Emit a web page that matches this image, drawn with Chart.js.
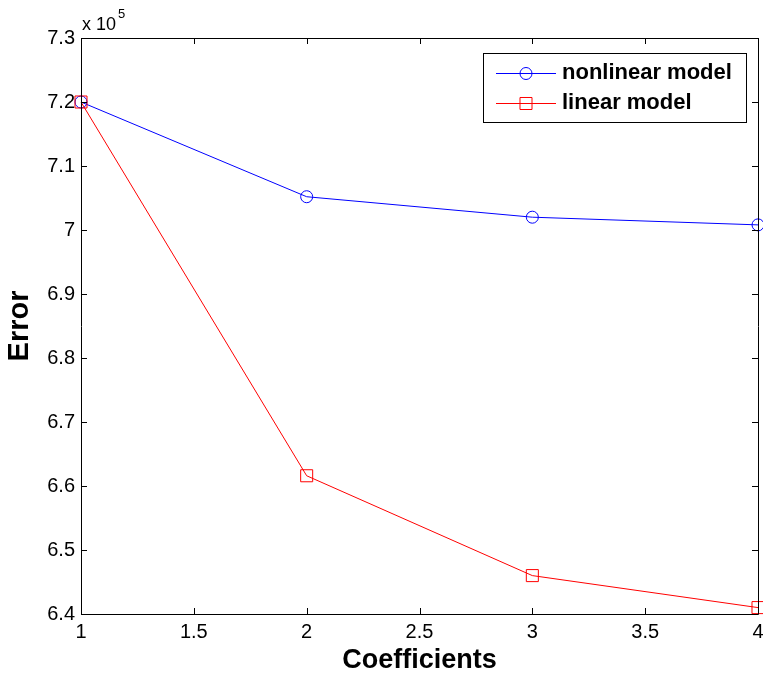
<!DOCTYPE html>
<html>
<head>
<meta charset="utf-8">
<script src="https://cdn.jsdelivr.net/npm/chart.js@4/dist/chart.umd.min.js"></script>
<style>
    html, body { margin: 0; padding: 0; background: #fff; }
    canvas { display: block; }
</style>
</head>
<body>
<canvas id="errChart" width="763" height="678"></canvas>
<script>
// Chart data
const coefficients = [1, 2, 3, 4];
const nonlinearError = [7.200, 7.052, 7.020, 7.008];
const linearError = [7.200, 6.616, 6.460, 6.410];
const xTicks = [1, 1.5, 2, 2.5, 3, 3.5, 4];
const yTicks = [6.4, 6.5, 6.6, 6.7, 6.8, 6.9, 7.0, 7.1, 7.2, 7.3];

const FONT = 'Arial, "Liberation Sans", Helvetica, sans-serif';

function toPoints(values) {
    return coefficients.map((c, i) => ({ x: c, y: values[i] }));
}

// Box, inside ticks, exponent label and legend (MATLAB look)
const matlabFrame = {
    id: 'matlabFrame',
    afterDraw(chart) {
        const ctx = chart.ctx;
        const a = chart.chartArea;
        const xs = chart.scales.x;
        const ys = chart.scales.y;
        const tl = 6;

        ctx.save();
        ctx.strokeStyle = '#000';
        ctx.lineWidth = 1;
        ctx.beginPath();
        ctx.rect(Math.round(a.left) + 0.5, Math.round(a.top) + 0.5,
                 Math.round(a.right - a.left), Math.round(a.bottom - a.top));
        ctx.stroke();

        ctx.beginPath();
        xs.ticks.forEach(t => {
            const px = Math.round(xs.getPixelForValue(t.value)) + 0.5;
            ctx.moveTo(px, a.bottom); ctx.lineTo(px, a.bottom - tl);
            ctx.moveTo(px, a.top); ctx.lineTo(px, a.top + tl);
        });
        ys.ticks.forEach(t => {
            const py = Math.round(ys.getPixelForValue(t.value)) + 0.5;
            ctx.moveTo(a.left, py); ctx.lineTo(a.left + tl, py);
            ctx.moveTo(a.right, py); ctx.lineTo(a.right - tl, py);
        });
        ctx.stroke();

        // exponent label
        ctx.fillStyle = '#000';
        ctx.textBaseline = 'alphabetic';
        ctx.textAlign = 'left';
        ctx.font = '18px ' + FONT;
        ctx.fillText('x 10', a.left + 1, a.top - 8);
        const w = ctx.measureText('x 10').width;
        ctx.font = '13px ' + FONT;
        ctx.fillText('5', a.left + 3 + w, a.top - 20);

        // legend
        const box = { x: 483, y: 53, w: 263, h: 69 };
        ctx.fillStyle = '#fff';
        ctx.fillRect(box.x, box.y, box.w, box.h);
        ctx.strokeStyle = '#000';
        ctx.strokeRect(box.x + 0.5, box.y + 0.5, box.w, box.h);

        const rows = [73, 103];
        chart.data.datasets.forEach((ds, i) => {
            const y = rows[i] + 0.5;
            ctx.strokeStyle = ds.borderColor;
            ctx.fillStyle = 'rgba(0,0,0,0)';
            ctx.lineWidth = 1;
            ctx.beginPath();
            ctx.moveTo(496, y); ctx.lineTo(556, y);
            ctx.stroke();
            Chart.helpers.drawPoint(ctx, {
                pointStyle: ds.pointStyle,
                radius: ds.pointRadius,
                borderWidth: 1
            }, 526, y);
            ctx.fillStyle = '#000';
            ctx.font = 'bold 22px ' + FONT;
            ctx.textBaseline = 'middle';
            ctx.fillText(ds.label, 562, rows[i]);
        });
        ctx.restore();
    }
};

new Chart(document.getElementById('errChart'), {
    type: 'line',
    data: {
        datasets: [
            {
                label: 'nonlinear model',
                data: toPoints(nonlinearError),
                borderColor: '#0000ff',
                backgroundColor: 'rgba(0,0,0,0)',
                borderWidth: 1,
                pointStyle: 'circle',
                pointRadius: 6,
                pointBorderWidth: 1,
                tension: 0,
                clip: false,
                order: 1
            },
            {
                label: 'linear model',
                data: toPoints(linearError),
                borderColor: '#ff0000',
                backgroundColor: 'rgba(0,0,0,0)',
                borderWidth: 1,
                pointStyle: 'rect',
                pointRadius: 8.5,
                pointBorderWidth: 1,
                tension: 0,
                clip: false,
                order: 0
            }
        ]
    },
    options: {
        responsive: false,
        animation: false,
        layout: { autoPadding: false, padding: { top: 38, right: 5, left: 0, bottom: 0 } },
        plugins: {
            legend: { display: false },
            tooltip: { enabled: false }
        },
        scales: {
            x: {
                type: 'linear',
                min: 1,
                max: 4,
                afterBuildTicks: s => { s.ticks = xTicks.map(v => ({ value: v })); },
                afterFit: s => { s.height = 64; s.paddingLeft = 0; s.paddingRight = 0; },
                grid: { display: false, drawTicks: false },
                border: { display: false },
                ticks: {
                    padding: 6,
                    color: '#000',
                    font: { family: FONT, size: 20 },
                    callback: v => String(v),
                    maxRotation: 0
                },
                title: {
                    display: true,
                    text: 'Coefficients',
                    color: '#000',
                    font: { family: FONT, size: 27, weight: 'bold' },
                    padding: { top: 0, bottom: 1 }
                }
            },
            y: {
                type: 'linear',
                min: 6.4,
                max: 7.3,
                afterBuildTicks: s => { s.ticks = yTicks.map(v => ({ value: v })); },
                afterFit: s => { s.width = 81; s.paddingTop = 0; s.paddingBottom = 0; },
                grid: { display: false, drawTicks: false },
                border: { display: false },
                ticks: {
                    padding: 6,
                    color: '#000',
                    font: { family: FONT, size: 20 },
                    callback: v => String(v)
                },
                title: {
                    display: true,
                    text: 'Error',
                    color: '#000',
                    font: { family: FONT, size: 29, weight: 'bold' },
                    padding: { top: 3, bottom: 0 }
                }
            }
        }
    },
    plugins: [matlabFrame]
});
</script>
</body>
</html>
